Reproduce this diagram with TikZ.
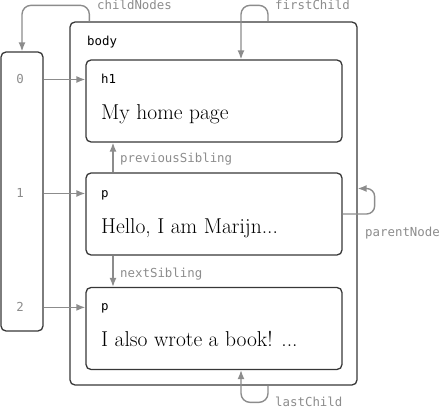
\documentclass[tikz,border=0pt]{standalone}
\usepackage{fontspec}
\usetikzlibrary{arrows.meta, positioning}
\newfontfamily\codefont{DejaVu Sans Mono}
\definecolor{linkgray}{RGB}{140,140,140}
\definecolor{boxgray}{RGB}{55,55,55}

\begin{document}
\begin{tikzpicture}[x=1pt, y=-1pt,
    box/.style={draw=boxgray, line width=1.3pt, rounded corners=5pt, inner sep=0pt,
                minimum width=256pt, minimum height=82pt},
    link/.style={draw=linkgray, line width=1.4pt, rounded corners=9pt,
                 -{Latex[length=9pt, width=7pt]}},
    lbl/.style={text=linkgray, font=\codefont\fontsize{12.4}{14}\selectfont,
                inner sep=0pt, anchor=base west},
    tag/.style={font=\codefont\fontsize{12.4}{14}\selectfont, inner sep=0pt, anchor=base west},
    txt/.style={font=\fontsize{21.5}{24}\selectfont, inner sep=0pt, anchor=base west}]
    \useasboundingbox (0,0) rectangle (440,409);

    % body and its children
    \node[box, minimum width=287pt, minimum height=363pt] (body) at (213.5,203.5) {};
    \node[box] (h1) at (214,101) {};
    \node[box] (p1) at (214,214) {};
    \node[box] (p2) at (214,328.5) {};
    \node[box, minimum width=42pt, minimum height=279pt] (list) at (22,191.5) {};

    \node[tag] (bodytag) at (87,45.5) {body};
    \node[tag] (h1tag) at (101,84) {h1};
    \node[txt] (h1text) at (101,120) {My home page};
    \node[tag] (p1tag) at (101,198) {p};
    \node[txt] (p1text) at (101,234) {Hello, I am Marijn...};
    \node[tag] (p2tag) at (101,311) {p};
    \node[txt] (p2text) at (101,347) {I also wrote a book! ...};

    % childNodes entries
    \node[lbl, anchor=base] (i0) at (20,84) {0};
    \node[lbl, anchor=base] (i1) at (20,198) {1};
    \node[lbl, anchor=base] (i2) at (20,312) {2};
    \draw[link] (list.east |- i0) -- (h1.west |- i0);
    \draw[link] (list.east |- i1) -- (p1.west |- i1);
    \draw[link] (list.east |- i2) -- (p2.west |- i2);

    % link labels
    \node[lbl] (cnlbl) at (97,10) {childNodes};
    \node[lbl] (fclbl) at (275,10) {firstChild};
    \node[lbl] (lclbl) at (275,407) {lastChild};
    \node[lbl] (pslbl) at (120,163) {previousSibling};
    \node[lbl] (nslbl) at (120,278) {nextSibling};
    \node[lbl] (pnlbl) at (365,237) {parentNode};

    % links
    \draw[link] ([xshift=20pt]body.north west) |- (list.north |- cnlbl.west) -- (list.north);
    \coordinate (fc) at ([xshift=54pt]h1.north);
    \coordinate (fcin) at ([xshift=27pt]h1.north);
    \draw[link] (fc |- body.north) |- (fcin |- fclbl.west) -- (fcin);
    \coordinate (lc) at ([xshift=54pt]p2.south);
    \coordinate (lcin) at ([xshift=27pt]p2.south);
    \draw[link] (lc |- body.south) |- (lcin |- lclbl.west) -- (lcin);
    \coordinate (sib) at ([xshift=-101pt]p1.north);
    \draw[link] (p1.north -| sib) -- (h1.south -| sib);
    \draw[link] (p1.south -| sib) -- (p2.north -| sib);
    \coordinate (pn) at ([yshift=15pt]body.east);
    \draw[link, rounded corners=8pt] (p1.east) -- ++(32,0) |- (pn);
\end{tikzpicture}
\end{document}
